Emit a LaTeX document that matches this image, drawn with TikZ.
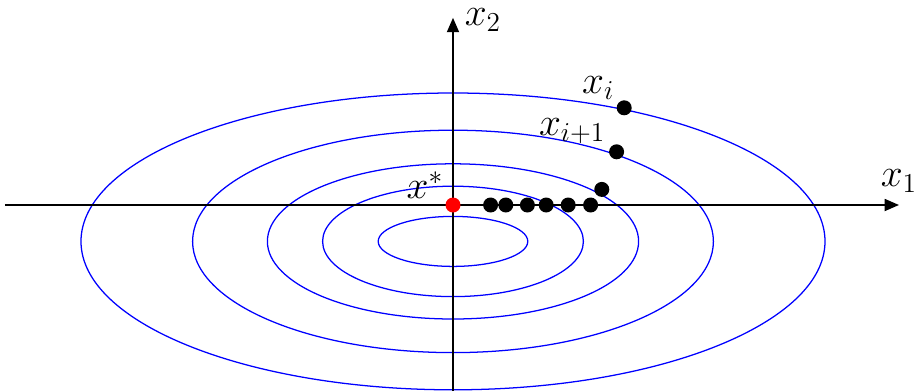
\documentclass[tikz,border=0pt]{standalone}
\usepackage{tikz}
\usetikzlibrary{arrows.meta, positioning}
\usepackage{amsmath}

\begin{document}
\begin{tikzpicture}[
    >={Triangle[length=0.36cm, width=0.3cm]},
    font=\LARGE,
    axe/.style={->, line width=1.3pt},
    niveau/.style={blue, line width=0.9pt},
    dot/.style={circle, fill=black, inner sep=0pt, minimum size=0.375cm},
    opt/.style={dot, fill=red},
    lab/.style={scale=1.62, transform shape, inner sep=0.5pt}
]
\useasboundingbox (-11.325,-4.65) rectangle (11.6,5.125);

% lignes de niveau
\draw[niveau] (0,-0.91) ellipse [x radius=9.3,  y radius=3.71];
\draw[niveau] (0,-0.91) ellipse [x radius=6.51, y radius=2.78];
\draw[niveau] (0,-0.91) ellipse [x radius=4.64, y radius=1.94];
\draw[niveau] (0,-0.91) ellipse [x radius=3.26, y radius=1.38];
\draw[niveau] (0,-0.91) ellipse [x radius=1.87, y radius=0.625];

% axes
\coordinate (xg) at (-11.2,0);
\coordinate (xd) at (11.15,0);
\coordinate (yb) at (0,-4.65);
\coordinate (yh) at (0,4.68);
\draw[axe] (xg) -- (xd);
\draw[axe] (yb) -- (yh);
\node[lab] (lx1) at (11.15,0.6) {$x_1$};
\node[lab] (lx2) at (0.75,4.62) {$x_2$};

% iteres
\node[dot] (p1) at (0.94,0)    {};
\node[dot] (p2) at (1.32,0)    {};
\node[dot] (p3) at (1.86,0)    {};
\node[dot] (p4) at (2.33,0)    {};
\node[dot] (p5) at (2.88,0)    {};
\node[dot] (p6) at (3.44,0)    {};
\node[dot] (p7) at (3.72,0.39) {};
\node[dot] (xi1) at (4.09,1.33) {};
\node[dot] (xi)  at (4.28,2.43) {};
\node[opt] (xs)  at (0,0)       {};

% etiquettes
\node[lab] (lxi)  at (3.63,2.93)  {$x_i$};
\node[lab] (lxi1) at (2.98,1.85)  {$x_{i+1}$};
\node[lab] (lxs)  at (-0.7,0.5)   {$x^*$};

\end{tikzpicture}
\end{document}
